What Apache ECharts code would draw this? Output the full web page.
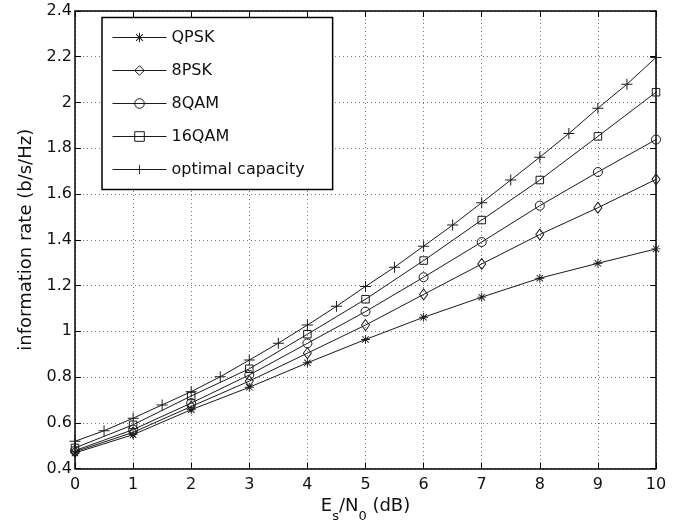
<!DOCTYPE html>
<html>
<head>
<meta charset="utf-8">
<script src="https://cdn.jsdelivr.net/npm/echarts@6/dist/echarts.min.js"></script>
<style>
html,body{margin:0;padding:0;background:#fff;}
#chart{width:683px;height:527px;}
</style>
</head>
<body>
<div id="chart"></div>
<script>
var snrDb = [0,1,2,3,4,5,6,7,8,9,10];
var snrDbFine = [0,0.5,1,1.5,2,2.5,3,3.5,4,4.5,5,5.5,6,6.5,7,7.5,8,8.5,9,9.5,10];
var qpsk   = [0.468,0.548,0.657,0.755,0.862,0.964,1.061,1.149,1.232,1.297,1.360];
var psk8   = [0.473,0.558,0.671,0.782,0.904,1.027,1.161,1.294,1.423,1.540,1.664];
var qam8   = [0.478,0.570,0.686,0.809,0.947,1.086,1.236,1.390,1.549,1.696,1.838];
var qam16  = [0.490,0.591,0.717,0.836,0.987,1.140,1.309,1.486,1.661,1.852,2.045];
var optimal = [0.519,0.565,0.620,0.678,0.736,0.801,0.874,0.948,1.027,1.109,1.196,1.280,1.372,1.464,1.562,1.661,1.761,1.864,1.975,2.080,2.197];
var xTicks = [0,1,2,3,4,5,6,7,8,9,10];
var yTicks = [0.4,0.6,0.8,1,1.2,1.4,1.6,1.8,2,2.2,2.4];

var seriesNames = ['QPSK','8PSK','8QAM','16QAM','optimal capacity'];

var asteriskPath = 'path://M-1,-10 L1,-10 L1,10 L-1,10 Z M-10,-1 L10,-1 L10,1 L-10,1 Z M-7.8,-6.4 L-6.4,-7.8 L7.8,6.4 L6.4,7.8 Z M7.8,-6.4 L-6.4,7.8 L-7.8,6.4 L6.4,-7.8 Z';
var plusPath = 'path://M-0.9,-10 L0.9,-10 L0.9,10 L-0.9,10 Z M-10,-0.9 L10,-0.9 L10,0.9 L-10,0.9 Z';

function pairs(xs, ys){ return xs.map(function(x,i){ return [x, ys[i]]; }); }

var ink = '#1a1a1a';
function hollow(name, data, symbol, size){
  return {
    name: name, type: 'line', data: data, symbol: symbol, symbolSize: size,
    showSymbol: true, showAllSymbol: true, z: 3,
    lineStyle: {color: ink, width: 1},
    itemStyle: {color: 'rgba(255,255,255,0)', borderColor: ink, borderWidth: 1}
  };
}
function filled(name, data, symbol, size){
  return {
    name: name, type: 'line', data: data, symbol: symbol, symbolSize: size,
    showSymbol: true, showAllSymbol: true, z: 3,
    lineStyle: {color: ink, width: 1},
    itemStyle: {color: ink, borderWidth: 0}
  };
}

var font = '"DejaVu Sans", "Liberation Sans", Arial, sans-serif';
var chart = echarts.init(document.getElementById('chart'));
chart.setOption({
  animation: false,
  backgroundColor: '#fff',
  textStyle: {fontFamily: font},
  grid: {left: 75, right: 27, top: 11, bottom: 58.5, containLabel: false, outerBoundsMode: 'none'},
  legend: {
    orient: 'vertical', left: 102, top: 17.5,
    padding: [11, 28, 11, 10],
    backgroundColor: '#fff', borderColor: '#000', borderWidth: 1.5, borderRadius: 0,
    itemWidth: 54, itemHeight: 12, itemGap: 15,
    lineStyle: {width: 1},
    itemStyle: {borderWidth: 1},
    textStyle: {fontSize: 16, color: '#111', fontFamily: font, lineHeight: 18},
    data: seriesNames, z: 10
  },
  xAxis: [{
    type: 'value', min: 0, max: 10, interval: 1, position: 'bottom',
    axisLine: {show: true, onZero: false, lineStyle: {color: '#000', width: 1.5}},
    axisTick: {show: true, inside: true, length: 6, lineStyle: {color: '#000', width: 1}},
    axisLabel: {fontSize: 16, color: '#111', margin: 8, fontFamily: font},
    splitLine: {show: true, lineStyle: {color: '#777', width: 1, type: [1, 3]}},
    name: '{a|E}{s|s}{a|/N}{s|0}{a| (dB)}',
    nameLocation: 'middle', nameGap: 29,
    nameTextStyle: {
      fontFamily: font,
      rich: {
        a: {fontSize: 18, color: '#111', lineHeight: 22, verticalAlign: 'top', fontFamily: font},
        s: {fontSize: 13, color: '#111', lineHeight: 26, verticalAlign: 'bottom', fontFamily: font}
      }
    }
  }, {
    type: 'value', min: 0, max: 10, interval: 1, position: 'top',
    axisLine: {show: true, onZero: false, lineStyle: {color: '#000', width: 1.5}},
    axisTick: {show: true, inside: true, length: 6, lineStyle: {color: '#000', width: 1}},
    axisLabel: {show: false}, splitLine: {show: false}
  }],
  yAxis: [{
    type: 'value', min: 0.4, max: 2.4, interval: 0.2, position: 'left',
    axisLine: {show: true, onZero: false, lineStyle: {color: '#000', width: 1.5}},
    axisTick: {show: true, inside: true, length: 6, lineStyle: {color: '#000', width: 1}},
    axisLabel: {fontSize: 16, color: '#111', margin: 3, fontFamily: font,
      formatter: function(v){ return String(Math.round(v*10)/10); }},
    splitLine: {show: true, lineStyle: {color: '#777', width: 1, type: [1, 3]}},
    name: 'information rate (b/s/Hz)', nameLocation: 'middle', nameGap: 38,
    nameTextStyle: {fontSize: 18, color: '#111', fontFamily: font}
  }, {
    type: 'value', min: 0.4, max: 2.4, interval: 0.2, position: 'right',
    axisLine: {show: true, onZero: false, lineStyle: {color: '#000', width: 1.5}},
    axisTick: {show: true, inside: true, length: 6, lineStyle: {color: '#000', width: 1}},
    axisLabel: {show: false}, splitLine: {show: false}
  }],
  series: [
    filled(seriesNames[0], pairs(snrDb, qpsk), asteriskPath, 9),
    hollow(seriesNames[1], pairs(snrDb, psk8), 'diamond', [8, 11]),
    hollow(seriesNames[2], pairs(snrDb, qam8), 'circle', 9),
    hollow(seriesNames[3], pairs(snrDb, qam16), 'rect', 7.5),
    filled(seriesNames[4], pairs(snrDbFine, optimal), plusPath, 11)
  ]
});
</script>
</body>
</html>
